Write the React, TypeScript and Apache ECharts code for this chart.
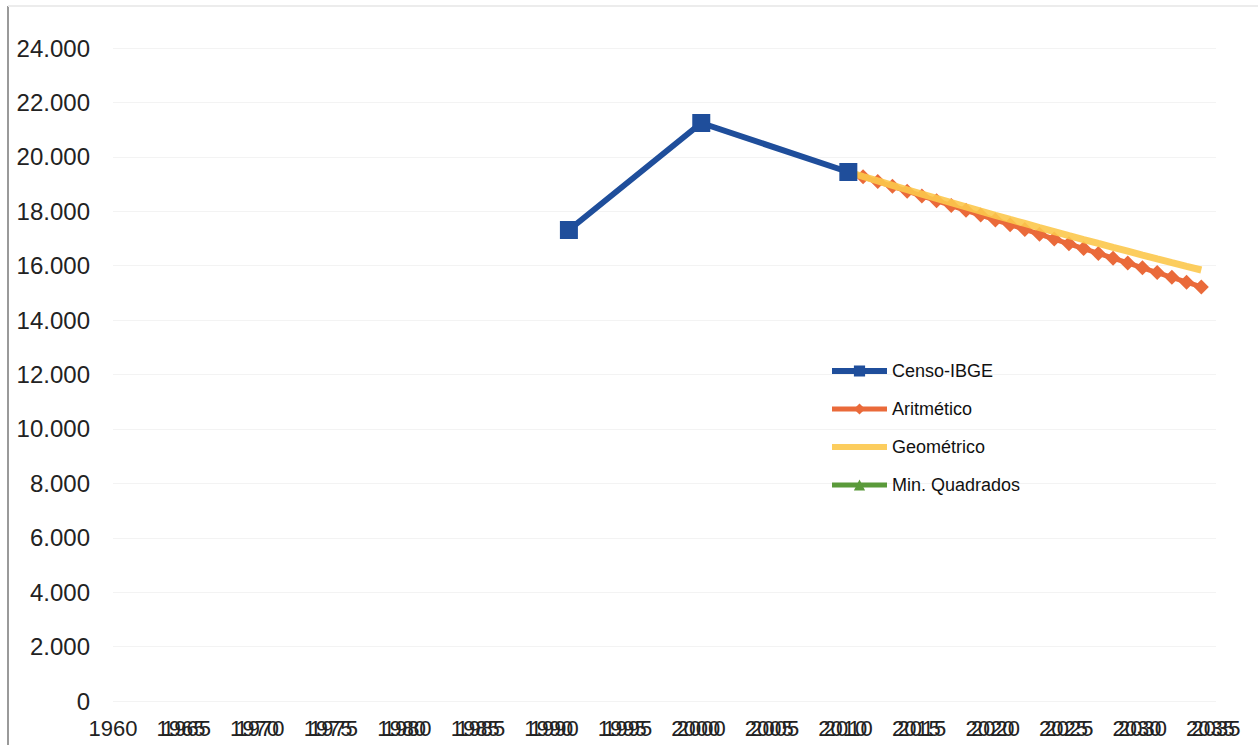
import React, { useEffect, useRef } from "react";
import * as echarts from "echarts";

const censoYears = [1991, 2000, 2010];
const censoValues = [17311, 21243, 19443];

const projYears = [
  2010, 2011, 2012, 2013, 2014, 2015, 2016, 2017, 2018, 2019, 2020, 2021, 2022,
  2023, 2024, 2025, 2026, 2027, 2028, 2029, 2030, 2031, 2032, 2033, 2034,
];
const aritValues = [
  19443, 19267, 19091, 18915, 18739, 18563, 18387, 18211, 18035, 17859, 17683,
  17507, 17331, 17155, 16979, 16803, 16627, 16451, 16275, 16099, 15923, 15747,
  15571, 15395, 15219,
];
const geomValues = [
  19443, 19278, 19114, 18951, 18790, 18631, 18472, 18315, 18159, 18005, 17852,
  17700, 17550, 17400, 17253, 17106, 16960, 16816, 16673, 16532, 16391, 16252,
  16114, 15977, 15841,
];
const minQuadValues: number[] = [];

const seriesNames = ["Censo-IBGE", "Aritmético", "Geométrico", "Min. Quadrados"];
const seriesColors = ["#1f4e9b", "#ea6a3a", "#fcc84c", "#5a9a3a"];

const FONT = "'Liberation Sans', Arial, sans-serif";

const fmt = (v: number) =>
  String(Math.round(v)).replace(/\B(?=(\d{3})+(?!\d))/g, ".");

const pairs = (xs: number[], ys: number[]) => ys.map((y, i) => [xs[i], y]);

export default function App() {
  const ref = useRef<HTMLDivElement>(null);
  useEffect(() => {
    if (!ref.current) return;
    const chart = echarts.init(ref.current, undefined, { renderer: "svg" });
    const xCommon = {
      type: "value",
      min: 1960,
      max: 2035,
      interval: 5,
      axisLine: { show: false },
      axisTick: { show: false },
      splitLine: { show: false },
    };
    const xLabel = {
      margin: 16,
      fontSize: 22,
      color: "#222222",
      fontFamily: FONT,
    };
    chart.setOption({
      animation: false,
      backgroundColor: "#ffffff",
      grid: { left: 113, right: 42, top: 48, bottom: 44, containLabel: false },
      xAxis: [
        {
          ...xCommon,
          axisLabel: { ...xLabel, formatter: (v: number) => String(v) },
        },
        {
          ...xCommon,
          position: "bottom",
          axisLabel: {
            ...xLabel,
            padding: [0, 11, 0, 0],
            formatter: (v: number) => (v === 1960 ? "" : String(v)),
          },
        },
      ],
      yAxis: {
        type: "value",
        min: 0,
        max: 24000,
        interval: 2000,
        axisLine: { show: false },
        axisTick: { show: false },
        splitLine: { show: true, lineStyle: { color: "#f3f3f3", width: 1 } },
        axisLabel: {
          margin: 23,
          fontSize: 24,
          color: "#222222",
          fontFamily: FONT,
          formatter: (v: number) => fmt(v),
        },
      },
      legend: {
        orient: "vertical",
        left: 824,
        top: 356,
        itemWidth: 55,
        itemHeight: 14,
        itemGap: 18,
        data: [
          { name: seriesNames[0], lineStyle: { width: 6 } },
          { name: seriesNames[1], lineStyle: { width: 5 } },
          { name: seriesNames[2], lineStyle: { width: 6 }, itemStyle: { opacity: 0 } },
          { name: seriesNames[3], lineStyle: { width: 5 } },
        ],
        textStyle: {
          fontSize: 18,
          lineHeight: 20,
          color: "#111111",
          fontFamily: FONT,
        },
      },
      graphic: [
        {
          type: "line",
          shape: { x1: 8, y1: 6, x2: 8, y2: 745 },
          style: { stroke: "#9a9a9a", lineWidth: 2 },
          silent: true,
        },
        {
          type: "line",
          shape: { x1: 8, y1: 6, x2: 1258, y2: 6 },
          style: { stroke: "#ececec", lineWidth: 2 },
          silent: true,
        },
      ],
      series: [
        {
          name: seriesNames[0],
          type: "line",
          data: pairs(censoYears, censoValues),
          color: seriesColors[0],
          lineStyle: { width: 6, color: seriesColors[0] },
          symbol: "rect",
          symbolSize: 18,
          itemStyle: { color: seriesColors[0] },
          z: 5,
        },
        {
          name: seriesNames[1],
          type: "line",
          data: pairs(projYears, aritValues),
          color: seriesColors[1],
          lineStyle: { width: 5, color: seriesColors[1] },
          symbol: "diamond",
          symbolSize: 15,
          itemStyle: { color: seriesColors[1] },
          z: 2,
        },
        {
          name: seriesNames[2],
          type: "line",
          data: pairs(projYears, geomValues),
          color: seriesColors[2],
          lineStyle: { width: 7, color: seriesColors[2], opacity: 0.9 },
          symbol: "none",
          itemStyle: { color: seriesColors[2] },
          z: 3,
        },
        {
          name: seriesNames[3],
          type: "line",
          data: minQuadValues,
          color: seriesColors[3],
          lineStyle: { width: 5, color: seriesColors[3] },
          symbol: "triangle",
          symbolSize: 12,
          itemStyle: { color: seriesColors[3] },
          z: 1,
        },
      ],
    });
    return () => chart.dispose();
  }, []);
  return (
    <div
      ref={ref}
      style={{ position: "fixed", left: 0, top: 0, width: 1258, height: 745 }}
    />
  );
}
